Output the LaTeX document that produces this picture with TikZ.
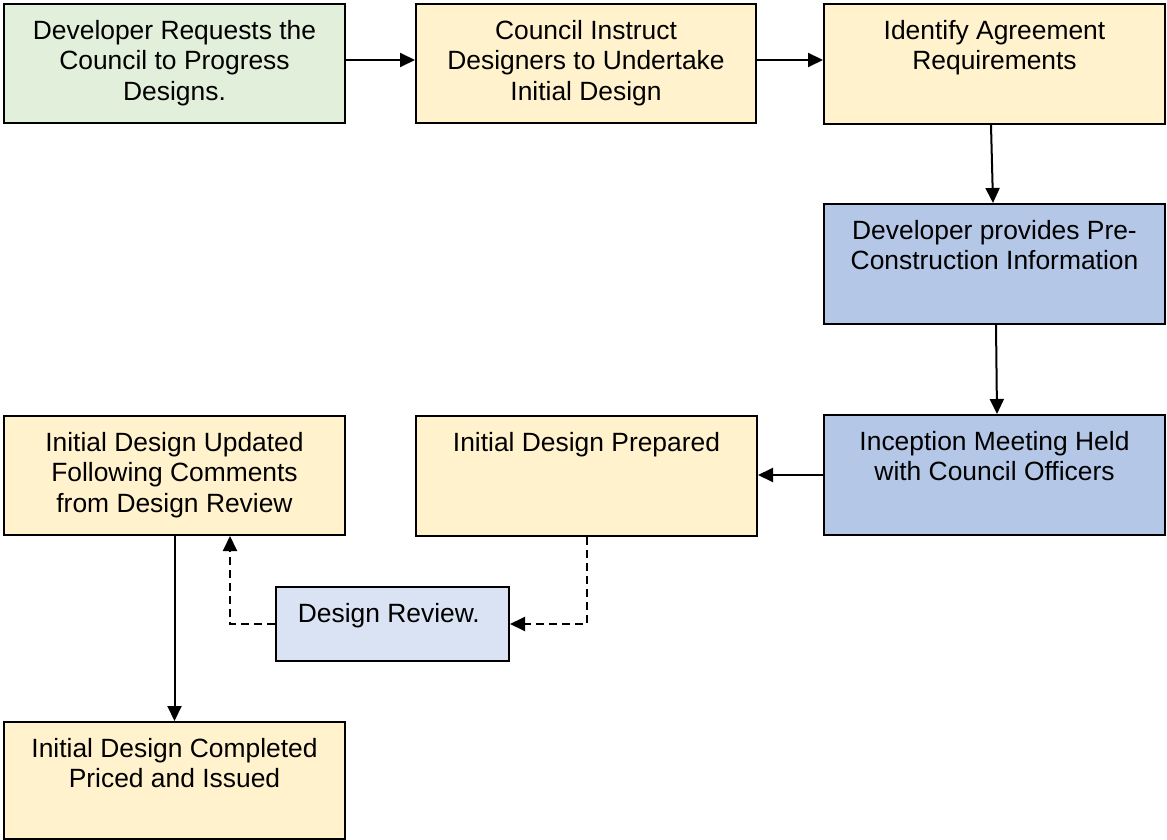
\documentclass[tikz,border=0pt]{standalone}
\usepackage{fontspec}
\setmainfont{Liberation Sans}
\usetikzlibrary{arrows.meta,calc}

\definecolor{startgreen}{HTML}{E2EFDA}
\definecolor{stepyellow}{HTML}{FFF2CC}
\definecolor{devblue}{HTML}{B4C7E7}
\definecolor{reviewblue}{HTML}{DAE3F3}

% top-aligned, centred text block of a given width and height
\newcommand\flowtext[3]{\parbox[t][#2pt][t]{#1pt}{\centering\rule{0pt}{35.5pt}#3}}

\begin{document}
\begin{tikzpicture}[x=1pt,y=-1pt,
  flowbox/.style={draw=black, line width=2pt, inner sep=0pt, anchor=north west,
    font=\fontsize{26.4pt}{30.4pt}\selectfont},
  link/.style={line width=2pt, -{Triangle[length=15pt,width=14pt]}},
  dashlink/.style={link, dash pattern=on 8pt off 5pt}]
\useasboundingbox (0,0) rectangle (1167,840);

% process steps
\node[flowbox, fill=startgreen] (b1) at (3,3)
  {\flowtext{341}{119}{Developer Requests the\\Council to Progress\\Designs.}};
\node[flowbox, fill=stepyellow] (b2) at (415,3)
  {\flowtext{340}{119}{Council Instruct\\Designers to Undertake\\Initial Design}};
\node[flowbox, fill=stepyellow] (b3) at (823,3)
  {\flowtext{341}{120}{Identify Agreement\\Requirements}};
\node[flowbox, fill=devblue] (b4) at (823,203)
  {\flowtext{341}{120}{Developer provides Pre-\\Construction Information}};
\node[flowbox, fill=devblue] (b5) at (823,414)
  {\flowtext{341}{120}{Inception Meeting Held\\with Council Officers}};
\node[flowbox, fill=stepyellow] (b6) at (415,415)
  {\flowtext{341}{120}{Initial Design Prepared}};
\node[flowbox, fill=stepyellow] (b7) at (3,415)
  {\flowtext{341}{119}{Initial Design Updated\\Following Comments\\from Design Review}};
\node[flowbox, fill=reviewblue] (b8) at (275,586)
  {\flowtext{233}{74}{Design Review.\hspace*{0.278em}}};
\node[flowbox, fill=stepyellow] (b9) at (3,721)
  {\flowtext{341}{117}{Initial Design Completed\\Priced and Issued}};

% main flow
\draw[link] ($(b1.north east)+(0,57)$) -- ($(b2.north west)+(0,57)$);
\draw[link] ($(b2.north east)+(0,57)$) -- ($(b3.north west)+(0,57)$);
\draw[link] ($(b3.south west)+(168,0)$) -- ($(b4.north west)+(170,0)$);
\draw[link] ($(b4.south west)+(173,0)$) -- ($(b5.north west)+(174,0)$);
\draw[link] ($(b5.north west)+(0,61)$) -- ($(b6.north east)+(0,60)$);
\draw[link] (b7.south) -- (b9.north);

% review loop
\draw[dashlink] (b6.south) |- (b8.east);
\draw[dashlink] (b8.west) -| ($(b7.south west)+(227,0)$);
\end{tikzpicture}
\end{document}
